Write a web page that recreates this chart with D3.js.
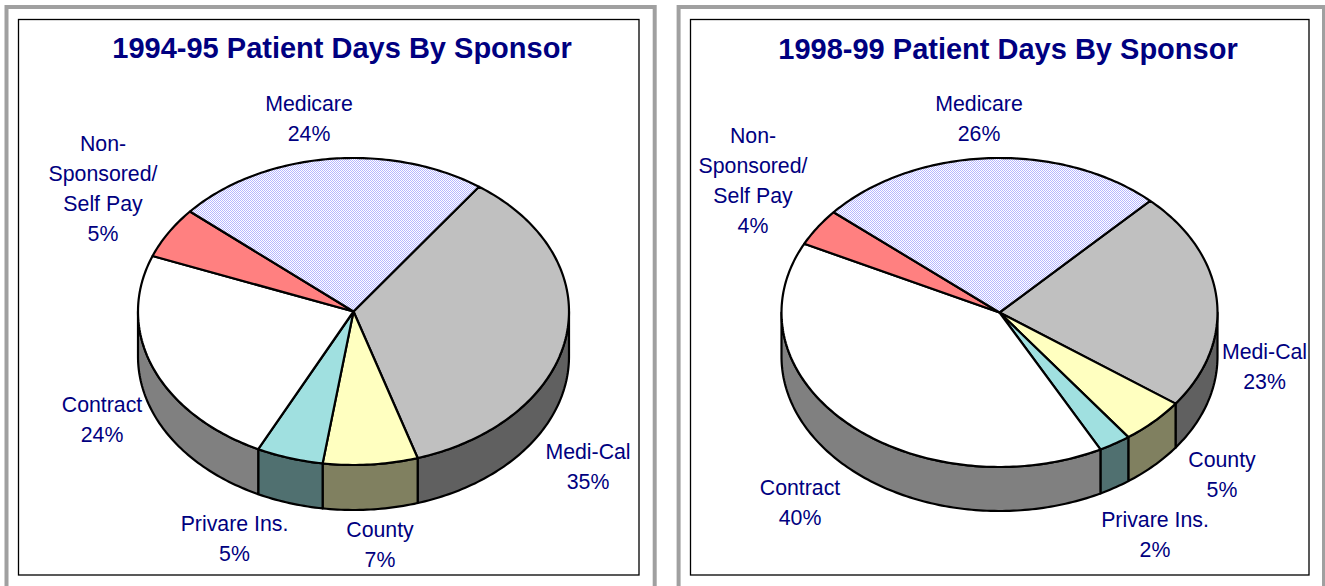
<!DOCTYPE html>
<html><head><meta charset="utf-8">
<script src="https://cdn.jsdelivr.net/npm/d3@7"></script>
<style>
html,body{margin:0;padding:0;background:#fff;overflow:hidden}
svg{display:block}
text{font-family:"Liberation Sans",Arial,sans-serif;fill:#000080}
</style></head><body>
<svg id="c" width="1325" height="586"></svg>
<script>
const sponsors = ["Medi-Cal","County","Privare Ins.","Contract","Non-Sponsored/Self Pay","Medicare"];
const values9495 = [35.3,7.1,5.0,23.6,5.4,23.6];
const values9899 = [22.9,4.9,2.4,40.0,3.9,25.9];
const title9495 = "1994-95 Patient Days By Sponsor";
const title9899 = "1998-99 Patient Days By Sponsor";
const labelLines = [["Medi-Cal"],["County"],["Privare Ins."],["Contract"],["Non-","Sponsored/","Self Pay"],["Medicare"]];
const topColors = ["#c0c0c0","#ffffc0","#a0e0e0","#ffffff","#ff8080","url(#dots)"];
const wallColors = ["#606060","#808060","#507070","#808080","#804040","#666680"];

const svg = d3.select("#c");
const defs = svg.append("defs");
const pat = defs.append("pattern").attr("id","dots").attr("width",2).attr("height",2).attr("patternUnits","userSpaceOnUse");
pat.append("rect").attr("width",2).attr("height",2).attr("fill","#ffffff");
pat.append("rect").attr("width",1).attr("height",1).attr("fill","#b6b6ff");
pat.append("rect").attr("x",1).attr("y",1).attr("width",1).attr("height",1).attr("fill","#b6b6ff");

const panels = [
 {title:title9495, values:values9495, start:35.6, cx:353.5, cy:311.5, rx:215.5, ry:153.5, depth:45,
  outer:[6.5,7,654.7], frame:[18.5,19.5,639,575], titleX:342, titleY:58,
  labels:[[588,459],[380,537],[234.5,531],[102,412],[103,151],[309,111]]},
 {title:title9899, values:values9899, start:43.7, cx:999.5, cy:312.5, rx:218, ry:154.5, depth:44,
  outer:[678.6,7,1324], frame:[690.5,19.5,1309,575], titleX:1008, titleY:59,
  labels:[[1264.5,359],[1222,467],[1155,527],[800,495],[753,143],[979,111]]}
];
const deg = Math.PI/180;

panels.forEach(p=>{
  const g = svg.append("g");
  g.append("path").attr("d",d3.line()([[p.outer[0],590],[p.outer[0],p.outer[1]],[p.outer[2],p.outer[1]],[p.outer[2],590]]))
    .attr("fill","none").attr("stroke","#a0a0a0").attr("stroke-width",4);
  const [fx0,fy0,fx1,fy1] = p.frame;
  g.append("rect").attr("x",fx0).attr("y",fy0).attr("width",fx1-fx0).attr("height",fy1-fy0)
    .attr("fill","#fff").attr("stroke","#000").attr("stroke-width",1.3);

  const sx = d3.scaleLinear().domain([-1,1]).range([p.cx-p.rx,p.cx+p.rx]);
  const sy = d3.scaleLinear().domain([-1,1]).range([p.cy-p.ry,p.cy+p.ry]);
  const pt = (a,dz=0)=>[sx(Math.sin(a)), sy(-Math.cos(a))+dz];
  const arcPts = (a0,a1,dz=0)=>{
    const n=Math.max(2,Math.ceil((a1-a0)/(1*deg)));
    return d3.range(n+1).map(i=>pt(a0+(a1-a0)*i/n,dz));
  };
  const line = d3.line();
  const pie = d3.pie().sort(null).startAngle(p.start*deg).endAngle((p.start+360)*deg);
  const arcs = pie(p.values);

  const wallRanges = [[90*deg,270*deg],[450*deg,630*deg]];
  arcs.forEach((a,i)=>{
    wallRanges.forEach(([lo,hi])=>{
      const a0=Math.max(a.startAngle,lo), a1=Math.min(a.endAngle,hi);
      if(a1<=a0) return;
      const poly=arcPts(a0,a1).concat(arcPts(a0,a1,p.depth).reverse());
      g.append("path").attr("d",line(poly)+"Z").attr("fill",wallColors[i])
        .attr("stroke","#000").attr("stroke-width",2.2).attr("stroke-linejoin","round");
    });
  });
  arcs.forEach((a,i)=>{
    const poly=[[p.cx,p.cy]].concat(arcPts(a.startAngle,a.endAngle));
    g.append("path").attr("d",line(poly)+"Z").attr("fill",topColors[i])
      .attr("stroke","#000").attr("stroke-width",2.2).attr("stroke-linejoin","round");
  });
  g.append("text").attr("x",p.titleX).attr("y",p.titleY).attr("text-anchor","middle")
    .attr("font-size",29).attr("font-weight",700).text(p.title);
  arcs.forEach((a,i)=>{
    const lines=labelLines[i].concat([d3.format(".0f")(p.values[i])+"%"]);
    const [lx,ly]=p.labels[i];
    lines.forEach((t,k)=>{
      g.append("text").attr("x",lx).attr("y",ly+k*30).attr("text-anchor","middle")
       .attr("font-size",21.3).text(t);
    });
  });
});
</script>
</body></html>
